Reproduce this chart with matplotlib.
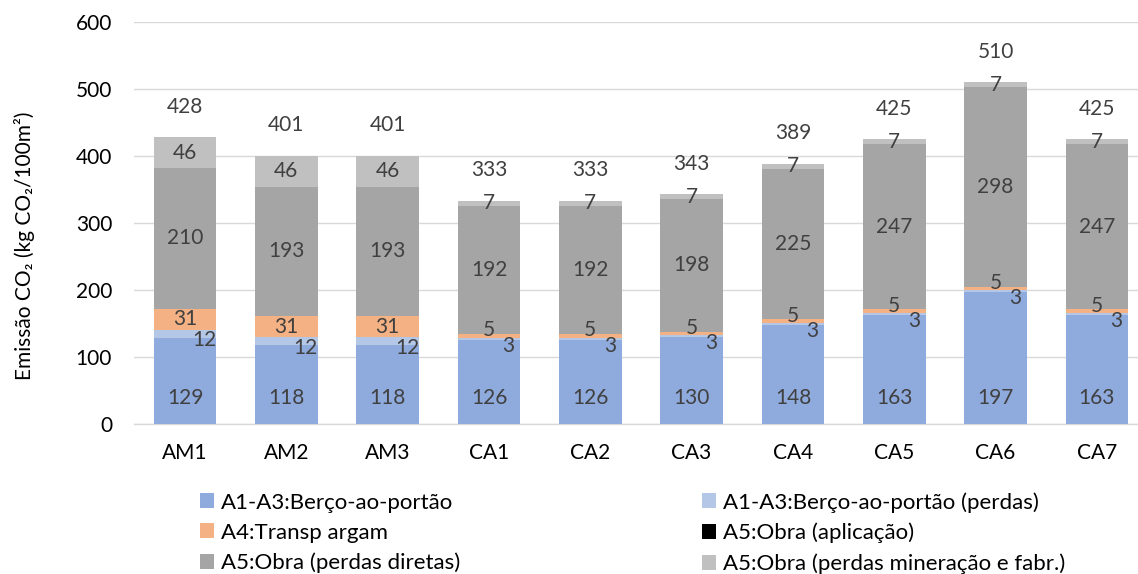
import matplotlib
matplotlib.use("Agg")
import matplotlib.pyplot as plt
from matplotlib.patches import Patch
import numpy as np

plt.rcParams['font.family'] = ['Lato', 'DejaVu Sans']

categories = ["AM1", "AM2", "AM3", "CA1", "CA2", "CA3", "CA4", "CA5", "CA6", "CA7"]

a1a3 = [129, 118, 118, 126, 126, 130, 148, 163, 197, 163]
a1a3_perdas = [12, 12, 12, 3, 3, 3, 3, 3, 3, 3]
a4_transp = [31, 31, 31, 5, 5, 5, 5, 5, 5, 5]
a5_aplicacao = [0, 0, 0, 0, 0, 0, 0, 0, 0, 0]
a5_perdas_diretas = [210, 193, 193, 192, 192, 198, 225, 247, 298, 247]
a5_perdas_min = [46, 46, 46, 7, 7, 7, 7, 7, 7, 7]
totals = [428, 401, 401, 333, 333, 343, 389, 425, 510, 425]

series_names = [
    "A1-A3:Berço-ao-portão",
    "A1-A3:Berço-ao-portão (perdas)",
    "A4:Transp argam",
    "A5:Obra (aplicação)",
    "A5:Obra (perdas diretas)",
    "A5:Obra (perdas mineração e fabr.)",
]
series_values = [a1a3, a1a3_perdas, a4_transp, a5_aplicacao, a5_perdas_diretas, a5_perdas_min]
colors = ["#8FAADC", "#B4C7E7", "#F4B183", "#000000", "#A5A5A5", "#C0C0C0"]

W, H = 1138, 574
fig = plt.figure(figsize=(W / 100, H / 100), dpi=100)
ax = fig.add_axes([134.3 / W, 150 / H, 1013.3 / W, 402 / H])

x = np.arange(len(categories))
bar_w = 0.62
label_color = "#404040"
fs = 15

bottom = np.zeros(len(categories))
for idx, (name, vals, col) in enumerate(zip(series_names, series_values, colors)):
    vals = np.array(vals, dtype=float)
    ax.bar(x, vals, bar_w, bottom=bottom, color=col, label=name, zorder=3)
    for i, v in enumerate(vals):
        if v <= 0:
            continue
        if idx == 0:
            # base series: label sits near the bottom of the bar
            anchor, dx, dy = bottom[i], 0, 19
        else:
            anchor, dx, dy = bottom[i] + v / 2, 0, 0
            if idx == 1:
                dx, dy = 14, -5
            elif idx == 2 and v < 10:
                dy = 4
        ax.annotate(f"{v:.0f}", (x[i], anchor), xytext=(dx, dy), textcoords="offset points",
                    ha="center", va="center", fontsize=fs, color=label_color, zorder=5)
    bottom += vals

for i, t in enumerate(totals):
    ax.annotate(f"{t}", (x[i], bottom[i]), xytext=(0, 22), textcoords="offset points",
                ha="center", va="center", fontsize=fs, color=label_color)

ax.set_xlim(-0.5, len(categories) - 0.5)
ax.set_ylim(0, 600)
ax.set_yticks(np.arange(0, 601, 100))
ax.set_xticks(x)
ax.set_xticklabels(categories)
ax.tick_params(axis="both", length=0, labelsize=fs, colors="black")
ax.tick_params(axis="y", pad=16)
ax.tick_params(axis="x", pad=14)
ax.grid(axis="y", color="#D9D9D9", linewidth=1.0, zorder=0)
for s in ["top", "right", "left"]:
    ax.spines[s].set_visible(False)
ax.spines["bottom"].set_color("#D9D9D9")
ax.spines["bottom"].set_linewidth(1.0)

fig.text(25 / W, 1 - 246 / H, "Emissão CO₂ (kg CO₂/100m²)", rotation=90,
         ha="center", va="center", fontsize=fs)

handles = [Patch(facecolor=c) for c in colors]
col1 = [0, 2, 4]
col2 = [1, 3, 5]
leg_kw = dict(loc="center left", frameon=False, fontsize=16, handlelength=0.65,
              handleheight=0.65, handletextpad=0.3, labelspacing=0.45,
              borderpad=0, borderaxespad=0)
leg1 = fig.legend([handles[i] for i in col1], [series_names[i] for i in col1],
                  bbox_to_anchor=(200 / W, 1 - 533 / H), **leg_kw)
leg2 = fig.legend([handles[i] for i in col2], [series_names[i] for i in col2],
                  bbox_to_anchor=(702 / W, 1 - 533 / H), **leg_kw)

fig.savefig("out.png", dpi=100)
